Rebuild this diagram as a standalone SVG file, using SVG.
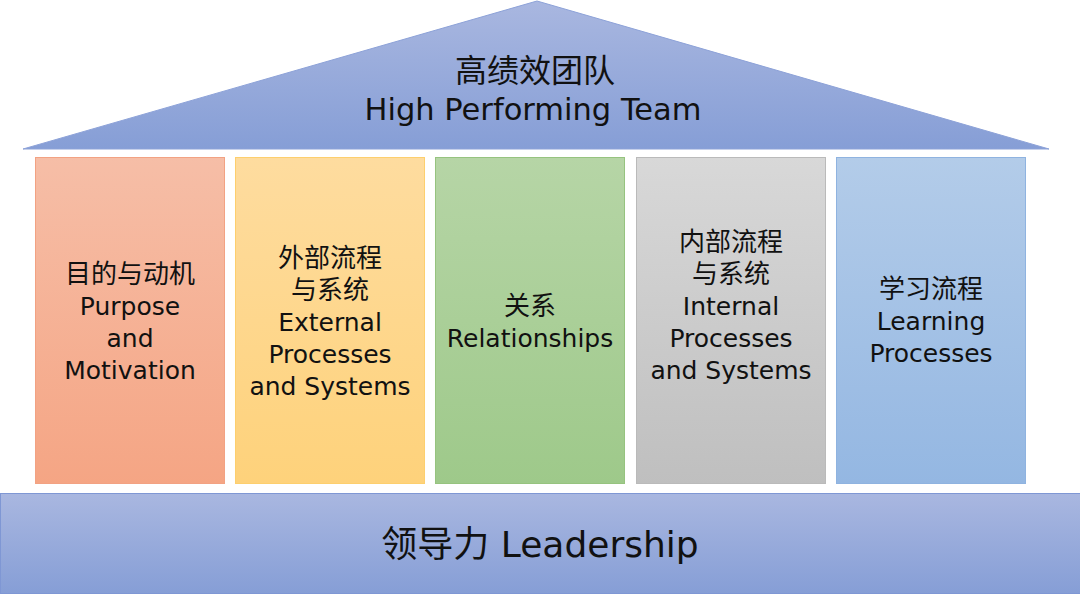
<svg xmlns="http://www.w3.org/2000/svg" width="1080" height="594" viewBox="0 0 1080 594">
<defs>
<linearGradient id="gBlue" x1="0" y1="0" x2="0" y2="1"><stop offset="0" stop-color="#a9b7e0"/><stop offset="1" stop-color="#869ed6"/></linearGradient>
<linearGradient id="g1" x1="0" y1="0" x2="0" y2="1"><stop offset="0" stop-color="#f6bea7"/><stop offset="1" stop-color="#f5a584"/></linearGradient>
<linearGradient id="g2" x1="0" y1="0" x2="0" y2="1"><stop offset="0" stop-color="#fedc9f"/><stop offset="1" stop-color="#fed27b"/></linearGradient>
<linearGradient id="g3" x1="0" y1="0" x2="0" y2="1"><stop offset="0" stop-color="#b6d5a6"/><stop offset="1" stop-color="#9ec98a"/></linearGradient>
<linearGradient id="g4" x1="0" y1="0" x2="0" y2="1"><stop offset="0" stop-color="#d8d8d8"/><stop offset="1" stop-color="#bfbfbf"/></linearGradient>
<linearGradient id="g5" x1="0" y1="0" x2="0" y2="1"><stop offset="0" stop-color="#b3cce9"/><stop offset="1" stop-color="#94b7e2"/></linearGradient>
</defs>
<style>
text{font-family:"DejaVu Sans","Noto Sans CJK SC",sans-serif;fill:#111;text-anchor:middle}
.t{font-size:30.5px}
.tz{font-size:32px}
.c{font-size:25px}
.cz{font-size:26px}
.b{font-size:36px}
</style>
<rect width="1080" height="594" fill="#ffffff"/>
<g id="roof">
<polygon points="537,1 23,149 1049,149" fill="url(#gBlue)" stroke="#8da2d8" stroke-width="1"/>
<text class="tz" x="535" y="82">高绩效团队</text>
<text class="t" x="533" y="120">High Performing Team</text>
</g>
<g id="pillar1">
<rect x="35.5" y="157.5" width="189" height="326" fill="url(#g1)" stroke="#f2a283"/>
<text class="cz" x="130" y="283">目的与动机</text>
<text class="c" x="130" y="315">Purpose</text>
<text class="c" x="130" y="347">and</text>
<text class="c" x="130" y="379">Motivation</text>
</g>
<g id="pillar2">
<rect x="235.5" y="157.5" width="189" height="326" fill="url(#g2)" stroke="#fdcf6e"/>
<text class="cz" x="330" y="267">外部流程</text>
<text class="cz" x="330" y="299">与系统</text>
<text class="c" x="330" y="331">External</text>
<text class="c" x="330" y="363">Processes</text>
<text class="c" x="330" y="395">and Systems</text>
</g>
<g id="pillar3">
<rect x="435.5" y="157.5" width="189" height="326" fill="url(#g3)" stroke="#96c37f"/>
<text class="cz" x="530" y="315">关系</text>
<text class="c" x="530" y="347">Relationships</text>
</g>
<g id="pillar4">
<rect x="636.5" y="157.5" width="189" height="326" fill="url(#g4)" stroke="#bababa"/>
<text class="cz" x="731" y="251">内部流程</text>
<text class="cz" x="731" y="283">与系统</text>
<text class="c" x="731" y="315">Internal</text>
<text class="c" x="731" y="347">Processes</text>
<text class="c" x="731" y="379">and Systems</text>
</g>
<g id="pillar5">
<rect x="836.5" y="157.5" width="189" height="326" fill="url(#g5)" stroke="#8fb3e0"/>
<text class="cz" x="931" y="298">学习流程</text>
<text class="c" x="931" y="330">Learning</text>
<text class="c" x="931" y="362">Processes</text>
</g>
<g id="foundation">
<rect x="0.5" y="493.5" width="1080" height="100" fill="url(#gBlue)" stroke="#7f97d4"/>
<text class="b" x="540" y="557">领导力 Leadership</text>
</g>
<g id="connectors"/>
</svg>
